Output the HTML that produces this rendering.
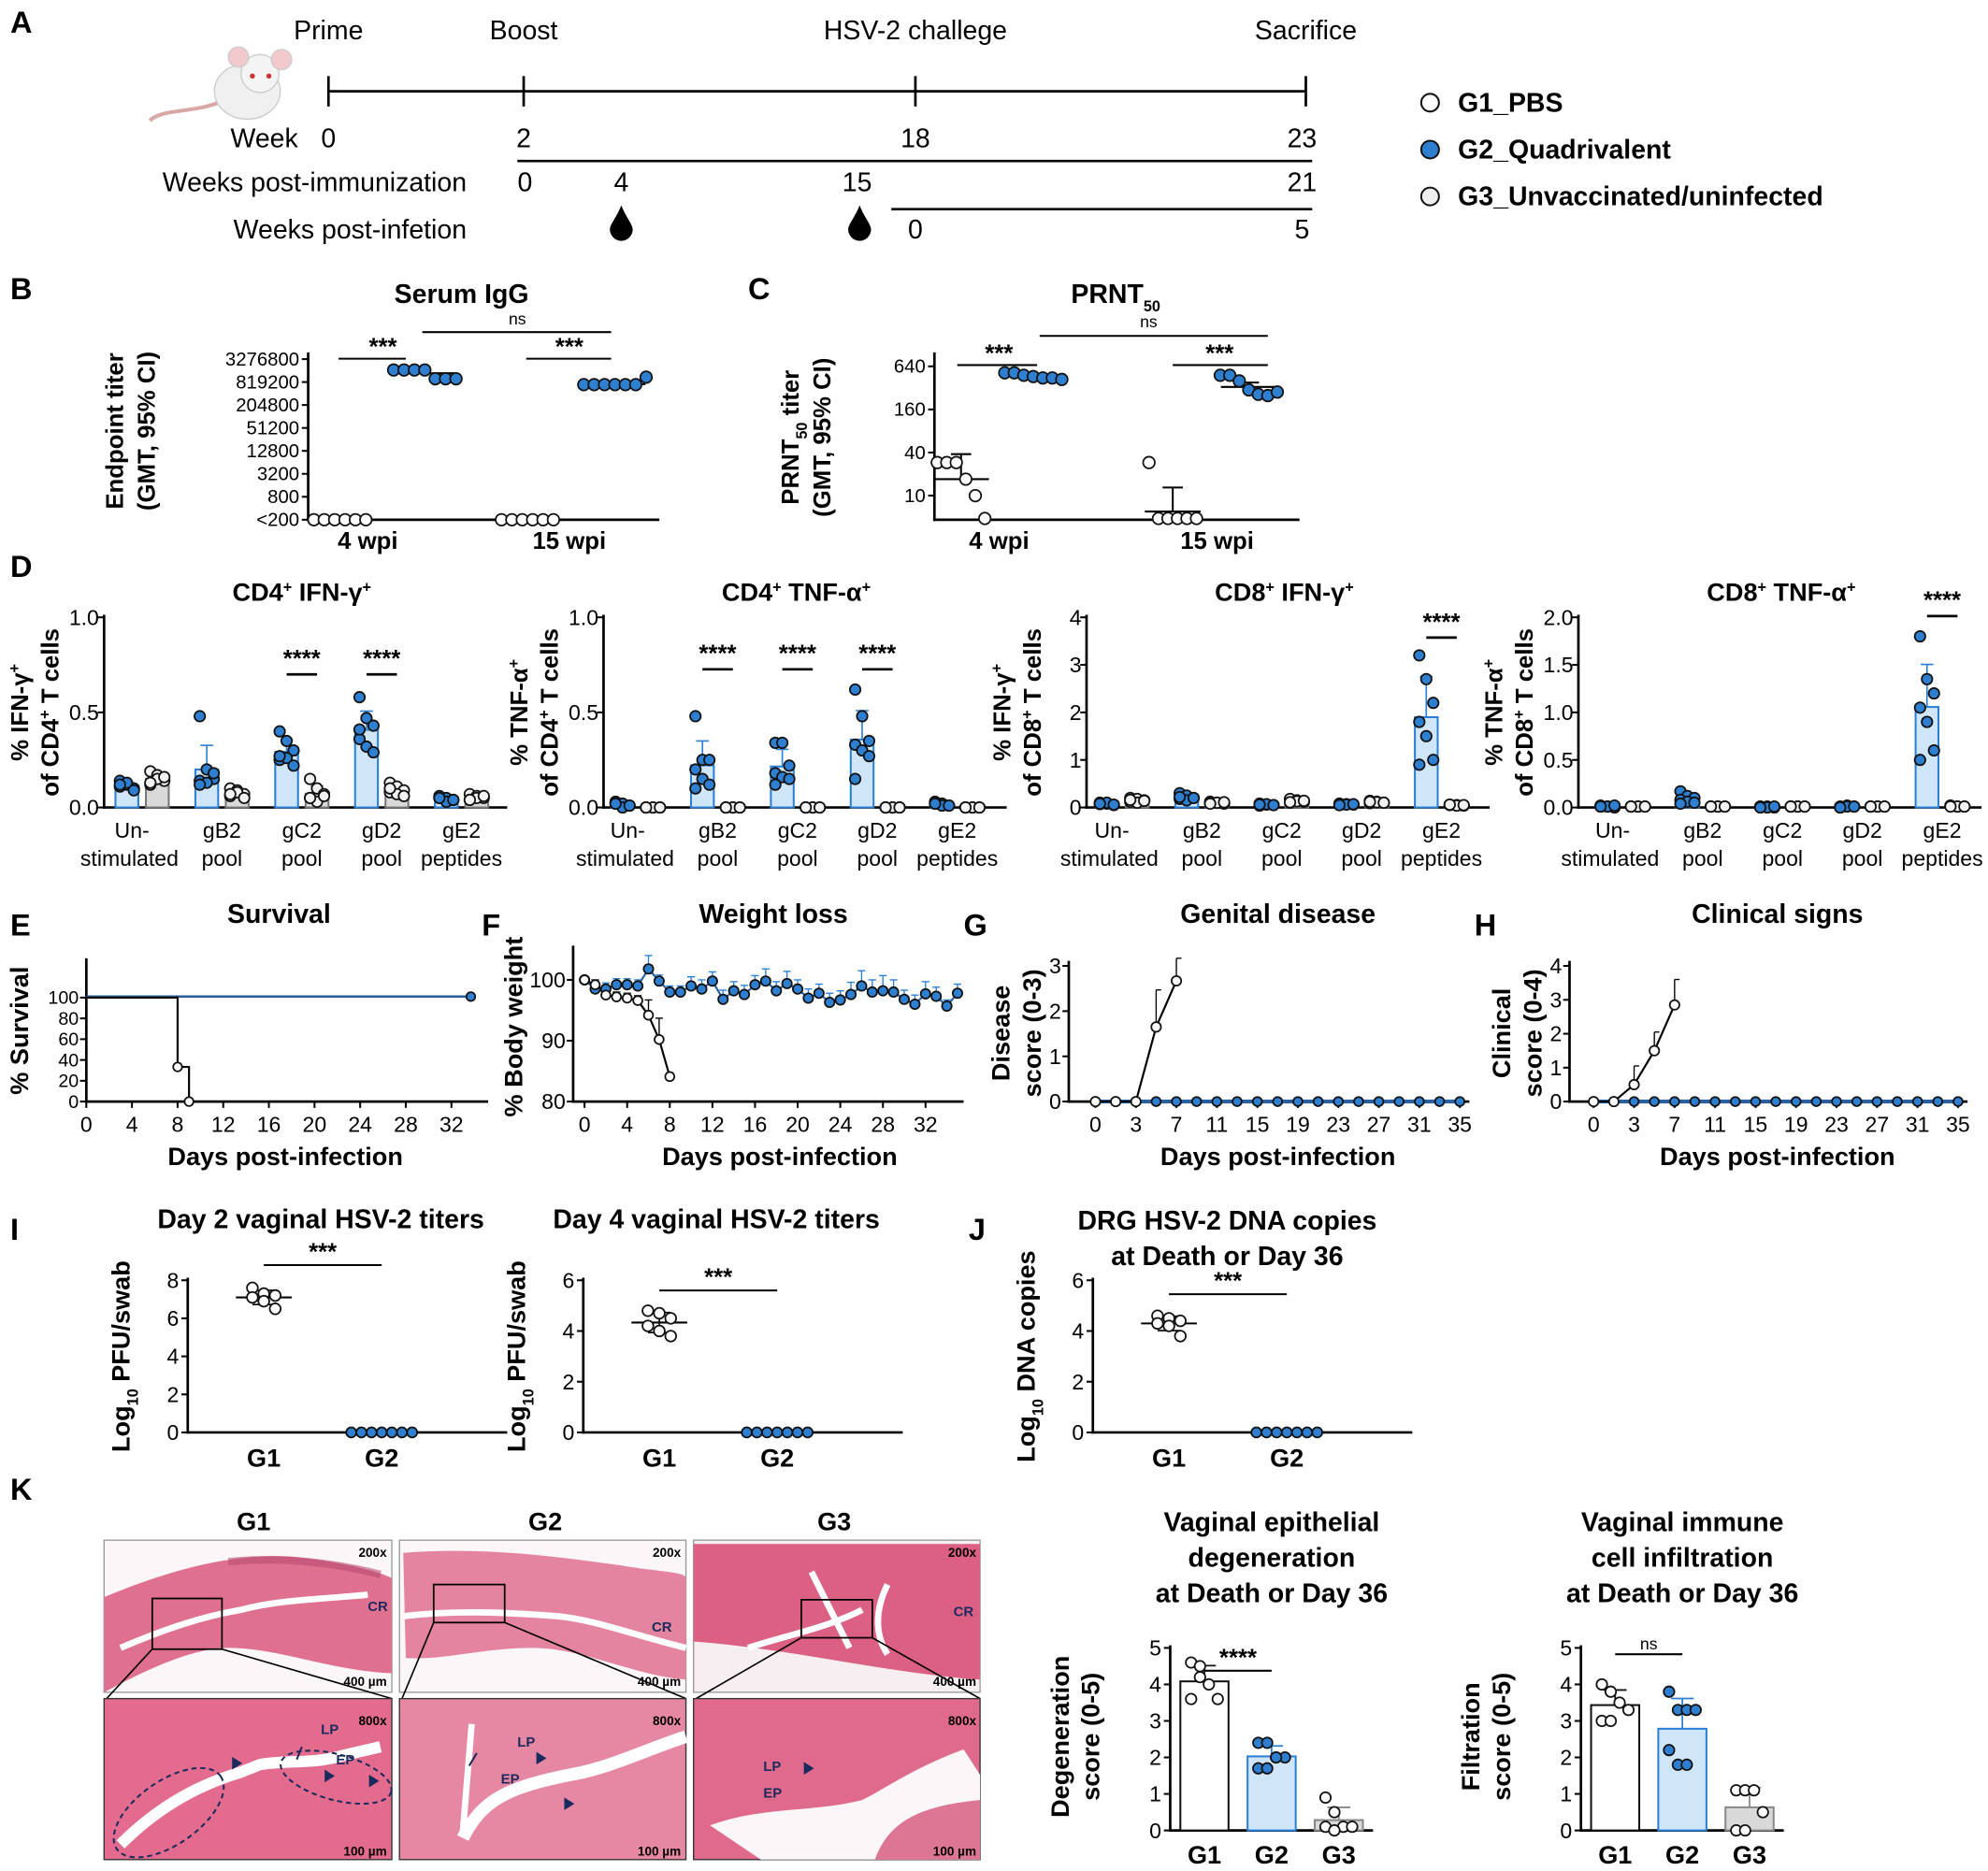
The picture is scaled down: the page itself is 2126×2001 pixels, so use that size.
<!DOCTYPE html>
<html><head><meta charset="utf-8">
<style>
html,body{margin:0;padding:0;background:#fff;}
svg{display:block;font-family:"Liberation Sans",Arial,sans-serif;}
</style></head>
<body>
<svg id="fig" xmlns="http://www.w3.org/2000/svg" width="2126" height="2001" viewBox="0 0 1568 1476">
<rect x="0" y="0" width="1568" height="1476" fill="#fff"/>
<g>
 <g>
  <rect x="82" y="1215" width="227" height="120" fill="#fbf7f8" stroke="#999"/>
  <path d="M82,1260 C130,1240 180,1225 230,1228 C270,1232 300,1240 309,1245 L309,1320 C260,1318 220,1300 180,1300 C150,1300 110,1320 82,1335 Z" fill="#e0708f"/>
  <path d="M95,1300 C130,1285 160,1275 190,1270 C220,1262 250,1262 290,1258" stroke="#fff" stroke-width="5" fill="none"/>
  <path d="M180,1232 C220,1228 260,1232 300,1242" stroke="#b84d72" stroke-width="6" fill="none" opacity="0.6"/>
  <rect x="120" y="1261" width="55" height="40" fill="none" stroke="#000" stroke-width="1.3"/>
 </g>
 <g>
  <rect x="315" y="1215" width="226" height="120" fill="#fbf7f8" stroke="#999"/>
  <path d="M318,1225 C380,1220 440,1228 490,1235 C520,1240 541,1240 541,1245 L541,1325 C500,1322 460,1300 420,1300 C380,1300 350,1310 320,1308 Z" fill="#e584a0"/>
  <path d="M318,1275 C360,1270 400,1272 440,1275 C470,1278 500,1290 541,1300" stroke="#fff" stroke-width="5" fill="none"/>
  <rect x="342" y="1250" width="56" height="30" fill="none" stroke="#000" stroke-width="1.3"/>
 </g>
 <g>
  <rect x="547" y="1215" width="226" height="120" fill="#f6eef0" stroke="#999"/>
  <path d="M547,1218 L773,1218 L773,1325 C700,1320 620,1300 547,1295 Z" fill="#dc5f84"/>
  <path d="M590,1300 C620,1290 650,1285 680,1270 M640,1240 C650,1260 660,1280 670,1300 M700,1250 C690,1270 690,1290 700,1305" stroke="#fff" stroke-width="5" fill="none"/>
  <rect x="632" y="1262" width="56" height="30" fill="none" stroke="#000" stroke-width="1.3"/>
 </g>
 <g stroke="#000" stroke-width="1.2">
  <line x1="120" y1="1301" x2="84" y2="1340"/><line x1="175" y1="1301" x2="309" y2="1340"/>
  <line x1="342" y1="1280" x2="317" y2="1340"/><line x1="398" y1="1280" x2="541" y2="1340"/>
  <line x1="632" y1="1292" x2="549" y2="1340"/><line x1="688" y1="1292" x2="773" y2="1340"/>
 </g>
 <g>
  <rect x="82" y="1340" width="227" height="127" fill="#e36b8d" stroke="#333"/>
  <path d="M95,1455 C120,1430 150,1410 190,1398 L205,1392 C230,1388 245,1392 270,1385 L300,1378" stroke="#fff" stroke-width="9" fill="none"/>
  <ellipse cx="133" cy="1430" rx="50" ry="25" transform="rotate(-35 133 1430)" fill="none" stroke="#1b2a5c" stroke-width="1.5" stroke-dasharray="4 3"/>
  <ellipse cx="265" cy="1402" rx="45" ry="18" transform="rotate(15 265 1402)" fill="none" stroke="#1b2a5c" stroke-width="1.5" stroke-dasharray="4 3"/>
 </g>
 <g>
  <rect x="315" y="1340" width="226" height="127" fill="#e688a3" stroke="#333"/>
  <path d="M365,1450 C380,1420 400,1410 450,1400 C480,1395 510,1380 541,1370" stroke="#fff" stroke-width="10" fill="none"/>
  <path d="M365,1445 L372,1360" stroke="#fff" stroke-width="5" fill="none"/>
 </g>
 <g>
  <rect x="547" y="1340" width="226" height="127" fill="#e06a8c" stroke="#333"/>
  <path d="M560,1440 C600,1425 640,1430 680,1420 C700,1410 720,1395 760,1380 L773,1400 L773,1467 L600,1467 Z" fill="#fbf6f7"/>
  <path d="M690,1467 C700,1440 720,1425 773,1420 L773,1467 Z" fill="#dd7595"/>
 </g>
 <g font-size="10" font-weight="bold" fill="#000" text-anchor="end">
  <text x="305" y="1228">200x</text><text x="537" y="1228">200x</text><text x="770" y="1228">200x</text>
  <text x="305" y="1361">800x</text><text x="537" y="1361">800x</text><text x="770" y="1361">800x</text>
  <text x="305" y="1330">400 µm</text><text x="537" y="1330">400 µm</text><text x="770" y="1330">400 µm</text>
  <text x="305" y="1464">100 µm</text><text x="537" y="1464">100 µm</text><text x="770" y="1464">100 µm</text>
 </g>
 <g font-size="11" font-weight="bold" fill="#1b2a5c">
  <text x="290" y="1271">CR</text><text x="514" y="1287">CR</text><text x="752" y="1275">CR</text>
  <text x="253" y="1368">LP</text><text x="265" y="1392">EP</text>
  <text x="408" y="1378">LP</text><text x="395" y="1407">EP</text>
  <text x="602" y="1397">LP</text><text x="602" y="1418">EP</text>
  <path d="M183,1386 l8,5 l-8,5 z M256,1396 l8,5 l-8,5 z M291,1400 l8,5 l-8,5 z M423,1382 l8,5 l-8,5 z M445,1418 l8,5 l-8,5 z M634,1390 l8,5 l-8,5 z" fill="#1b2a5c"/>
  <path d="M238,1378 l-4,10 M376,1383 l-6,10" stroke="#1b2a5c" stroke-width="1.5"/>
 </g>
</g>
<g>
 <path d="M175,80 C150,90 130,85 118,95" stroke="#d9a6a6" stroke-width="3" fill="none"/>
 <ellipse cx="195" cy="72" rx="26" ry="22" fill="#f0f0f0" stroke="#ccc"/>
 <circle cx="205" cy="58" r="15" fill="#f4f4f4" stroke="#ccc"/>
 <circle cx="188" cy="45" r="8" fill="#f2c9cc" stroke="#ccc"/>
 <circle cx="222" cy="47" r="8" fill="#f2c9cc" stroke="#ccc"/>
 <circle cx="199" cy="60" r="2" fill="#c33"/><circle cx="212" cy="60" r="2" fill="#c33"/>
</g>
<g fill="#000">
 <path d="M490,162 C486,172 481,177 481,181 A9,9 0 0 0 499,181 C499,177 494,172 490,162 Z"/>
 <path d="M678,162 C674,172 669,177 669,181 A9,9 0 0 0 687,181 C687,177 682,172 678,162 Z"/>
</g>
</svg>
<script>
// ===== DATA =====
const tlEvents=['Prime','Boost','HSV-2 challege','Sacrifice'];
const tlWeeks=[0,2,18,23];
const tlImm=[0,4,15,21];
const tlInf=[0,5];
const legendLabels=['G1_PBS','G2_Quadrivalent','G3_Unvaccinated/uninfected'];

const bTicks=[200,800,3200,12800,51200,204800,819200,3276800];
const bTickLabels=['<200','800','3200','12800','51200','204800','819200','3276800'];
const bG1w4=[200,200,200,200,200,200];
const bG2w4=[1700000,1700000,1700000,1700000,1000000,1000000,1000000];
const bG1w15=[200,200,200,200,200,200];
const bG2w15=[700000,700000,700000,700000,700000,700000,1100000];
const bGm=[200,1400000,200,720000];

const cTicks=[10,40,160,640];
const cG1w4=[29,29,29,17,10,4.6];
const cG2w4=[520,520,480,460,440,440,420];
const cG1w15=[29,4.6,4.6,4.6,4.6,4.6];
const cG2w15=[480,480,400,300,260,250,280];
const cGm=[17,462,6,330];
const cErrTop=[38,480,13,380];

const dCats1=['Un-','gB2','gC2','gD2','gE2'];
const dCats2=['stimulated','pool','pool','pool','peptides'];
const d1Blue=[[0.14,0.12,0.1,0.11,0.13,0.09,0.12],[0.48,0.2,0.15,0.14,0.13,0.18,0.12],[0.4,0.35,0.3,0.25,0.26,0.22,0.27],[0.58,0.47,0.43,0.36,0.32,0.29,0.41],[0.06,0.05,0.04,0.05,0.03,0.04,0.05]];
const d1Gray=[[0.19,0.17,0.14,0.12,0.15,0.16,0.13],[0.1,0.09,0.07,0.06,0.08,0.05,0.07],[0.15,0.1,0.07,0.05,0.03,0.06,0.05],[0.13,0.11,0.09,0.08,0.07,0.06,0.1],[0.07,0.06,0.05,0.04,0.05,0.06,0.04]];
const d2Blue=[[0.03,0.02,0.01,0.02,0.0,0.01,0.02],[0.48,0.25,0.25,0.2,0.15,0.12,0.1],[0.34,0.34,0.22,0.18,0.16,0.15,0.12],[0.62,0.48,0.35,0.33,0.3,0.27,0.15],[0.03,0.02,0.01,0.02,0.01,0.01,0.02]];
const d2Gray=[[0,0,0,0,0,0,0],[0,0,0,0,0,0,0],[0,0,0,0,0,0,0],[0,0,0,0,0,0,0],[0,0,0,0,0,0,0]];
const d3Blue=[[0.1,0.08,0.05,0.07,0.1,0.06,0.08],[0.3,0.25,0.2,0.18,0.15,0.2,0.22],[0.08,0.06,0.05,0.04,0.07,0.05,0.06],[0.08,0.07,0.06,0.05,0.06,0.07,0.05],[3.2,2.7,2.2,1.8,1.5,1.0,0.9]];
const d3Gray=[[0.2,0.18,0.15,0.12,0.1,0.14,0.16],[0.12,0.1,0.08,0.09,0.1,0.11,0.08],[0.18,0.15,0.12,0.1,0.13,0.14,0.11],[0.14,0.12,0.1,0.09,0.11,0.1,0.12],[0.06,0.05,0.04,0.05,0.04,0.05,0.06]];
const d4Blue=[[0.02,0.01,0.0,0.01,0.01,0.02,0.01],[0.17,0.12,0.1,0.08,0.06,0.05,0.04],[0.01,0.01,0.0,0.01,0.0,0.01,0.0],[0.01,0.02,0.01,0.0,0.01,0.01,0.0],[1.8,1.35,1.2,1.05,0.9,0.6,0.5]];
const d4Gray=[[0.01,0.01,0.01,0.01,0.01,0.01,0.01],[0.01,0.01,0.01,0.01,0.01,0.01,0.01],[0.01,0.01,0.01,0.01,0.01,0.01,0.01],[0.01,0.01,0.01,0.01,0.01,0.01,0.01],[0.02,0.01,0.01,0.02,0.01,0.01,0.01]];
const d1Ticks=[0,0.5,1.0], d1TickLabels=['0.0','0.5','1.0'];
const d3Ticks=[0,1,2,3,4], d3TickLabels=['0','1','2','3','4'];
const d4Ticks=[0,0.5,1,1.5,2], d4TickLabels=['0.0','0.5','1.0','1.5','2.0'];
const d1Sig=[2,3], d2Sig=[1,2,3], d3Sig=[4], d4Sig=[4];

const eTicksX=[0,4,8,12,16,20,24,28,32];
const eTicksY=[0,20,40,60,80,100];
const eG1Days=[0,8,8,9];
const eG1Surv=[100,100,33.3,0];
const eG2Days=[0,33.7];
const eG2Surv=[101,101];

const fTicksX=[0,4,8,12,16,20,24,28,32];
const fTicksY=[80,90,100];
const fG2=[100,98.5,98.5,99.2,99.2,99,101.8,99.8,98,98,99,98.5,99.8,96.8,98.2,97.6,99.2,99.8,98.2,99.4,98.5,97,97.8,96.3,96.7,97.6,99,98,98.2,98,96.8,96,97.7,97.3,95.7,97.8];
const fG2Err=[0.5,1,1,1,1,1,2.2,1,1,1,1.5,1.5,1.5,1.5,1.5,1.5,1.5,2,1.5,2,1.5,1.5,1.5,1.5,1.5,2,2.5,2,2.5,2,1.5,1.5,2,1.5,1,1.5];
const fG1=[100,99.2,97.5,97.2,97,96.6,94.2,90.2,84.1];
const fG1Err=[0.3,0.8,0.8,0.8,0.8,0.8,2.5,3.5,0.6];

const ghDays=['0','1','3','5','7','9','11','13','15','17','19','21','23','25','27','29','31','33','35'];
const ghTickIdx=[0,2,4,6,8,10,12,14,16,18];
const ghTickLabels=['0','3','7','11','15','19','23','27','31','35'];
const gG1=[0,0,0,1.65,2.67];
const gG1Err=[0,0,0,0.82,0.5];
const gG2=[0,0,0,0,0,0,0,0,0,0,0,0,0,0,0,0,0,0,0];
const hG1=[0,0,0.5,1.5,2.85];
const hG1Err=[0,0,0.55,0.55,0.75];
const hG2=[0,0,0,0,0,0,0,0,0,0,0,0,0,0,0,0,0,0,0];

const i1G1=[7.6,7.3,7.2,7.1,6.9,6.5];
const i1G2=[0,0,0,0,0,0,0];
const i2G1=[4.8,4.7,4.5,4.2,4.0,3.8];
const i2G2=[0,0,0,0,0,0,0];
const jG1=[4.6,4.5,4.4,4.3,4.2,3.8];
const jG2=[0,0,0,0,0,0,0];
const iTicks1=[0,2,4,6,8];
const iTicks2=[0,2,4,6];

const kCats=['G1','G2','G3'];
const kDeg=[[4.6,4.5,4.0,3.6,3.6,4.2],[2.4,2.4,2.0,2.0,1.7,1.7,2.0],[0.9,0.5,0.1,0.1,0.1,0.0]];
const kInf=[[4.0,3.8,3.5,3.3,3.0,3.0],[3.8,3.3,3.3,3.3,2.2,1.8,1.8],[1.1,1.1,1.1,0.5,0,0]];
const kTicks=[0,1,2,3,4,5];

// ===== HELPERS =====
const NS='http://www.w3.org/2000/svg';
const svg=document.getElementById('fig');
const BLUE='#2f7fd0', LBLUE='#cfe5f8', BARBLUE='#2b7fd4', GRAY='#d9d9d9';
function mk(tag,attrs,name,parent){
  const e=document.createElementNS(NS,tag);
  for(const k in attrs) e.setAttribute(k,attrs[k]);
  
  
  (parent||svg).appendChild(e); return e;
}
function txt(x,y,s,o,name){
  o=o||{};
  const a={x:x,y:y,'font-size':o.fs||17,'font-weight':o.fw||'normal','text-anchor':o.a||'middle',fill:o.fill||'#000'};
  if(o.rot) a.transform='rotate(-90 '+x+' '+y+')';
  const e=mk('text',a,name||'label',o.p);
  e.innerHTML=s; return e;
}
function ln(x1,y1,x2,y2,name,o){o=o||{};return mk('line',{x1:x1,y1:y1,x2:x2,y2:y2,stroke:o.c||'#000','stroke-width':o.w||2},name,o.p);}
function dot(x,y,fill,name,r){return mk('circle',{cx:x,cy:y,r:r||4.6,fill:fill,stroke:'#111','stroke-width':1.3},name);}
function lin(d0,d1,r0,r1){return v=>r0+(v-d0)/(d1-d0)*(r1-r0);}
function pw(dom,rng){return v=>{for(let i=0;i<dom.length-1;i++){if(v<=dom[i+1]||i==dom.length-2)return rng[i]+(v-dom[i])/(dom[i+1]-dom[i])*(rng[i+1]-rng[i]);}};}
function mean(a){return a.reduce((s,v)=>s+v,0)/a.length;}
function sd(a){const m=mean(a);return Math.sqrt(a.reduce((s,v)=>s+(v-m)*(v-m),0)/(a.length-1||1));}
const SUP=s=>'<tspan baseline-shift="super" font-size="12">'+s+'</tspan>';
const SUB=s=>'<tspan baseline-shift="sub" font-size="12">'+s+'</tspan>';
function letter(x,y,s){txt(x,y,s,{fs:24,fw:'bold',a:'start'},'panel-letter-'+s.toLowerCase());}

// ===== PANEL A =====
letter(8,26,'A');
const xTL=pw([0,2,18,23],[259,413,722,1030]);
ln(259,72,1030,72,'timeline-weeks');
tlWeeks.forEach((w,i)=>{
  ln(xTL(w),60,xTL(w),84,'timeline-tick');
  txt(xTL(w),31,tlEvents[i],{fs:21},'timeline-event');
  txt(xTL(w)+(i==3?-3:0),116,String(w),{fs:21},'week-label');
});
txt(235,116,'Week',{fs:21,a:'end'},'week-axis-label');
const xImm=pw([0,4,15,21],[414,490,676,1027]);
ln(408,127,1035,127,'timeline-immunization');
tlImm.forEach(w=>txt(xImm(w),151,String(w),{fs:21},'wpi-label'));
txt(368,151,'Weeks post-immunization',{fs:21,a:'end'},'wpi-axis-label');
const xInf=lin(0,5,722,1027);
ln(703,165,1035,165,'timeline-infection');
tlInf.forEach(w=>txt(xInf(w),188,String(w),{fs:21},'wpinf-label'));
txt(368,188,'Weeks post-infetion',{fs:21,a:'end'},'wpinf-axis-label');
const legFill=['#fff',BLUE,'#eee'];
legendLabels.forEach((l,i)=>{
  mk('circle',{cx:1128,cy:81+i*37,r:7,fill:legFill[i],stroke:'#111','stroke-width':1.5},'legend-marker');
  txt(1150,88+i*37,l,{fs:21,fw:'bold',a:'start'},'legend-entry');
});

// ===== PANEL B =====
letter(8,236,'B');
txt(364,239,'Serum IgG',{fs:21,fw:'bold'},'serum-igg-title');
const yB=v=>410-Math.log(v/200)/Math.log(4)*18.1;
ln(243,278,243,411,'b-y-axis');ln(242,410,520,410,'b-x-axis');
bTicks.forEach((t,i)=>{ln(238,yB(t),243,yB(t),'b-tick',{w:1.5});txt(236,yB(t)+5,bTickLabels[i],{fs:15,a:'end'},'b-tick-label');});
txt(97,340,'Endpoint titer',{fs:19,fw:'bold',rot:1},'b-y-title');
txt(122,340,'(GMT, 95% CI)',{fs:19,fw:'bold',rot:1},'b-y-title-2');
const bGroups=[[bG1w4,268,'#fff'],[bG2w4,335,BLUE],[bG1w15,416,'#fff'],[bG2w15,485,BLUE]];
bGroups.forEach((g,gi)=>{
  ln(g[1]-24,yB(bGm[gi]),g[1]+24,yB(bGm[gi]),'b-gmt-line',{w:1.5});
  g[0].forEach((v,i)=>dot(g[1]+(i-(g[0].length-1)/2)*8.2,yB(v),g[2],'b-point'));
});
txt(290,433,'4 wpi',{fs:19,fw:'bold'},'b-x-label');txt(449,433,'15 wpi',{fs:19,fw:'bold'},'b-x-label');
ln(267,283,320,283,'b-sig-line',{w:1.5});txt(302,280,'***',{fs:19,fw:'bold'},'b-sig');
ln(415,283,482,283,'b-sig-line',{w:1.5});txt(449,280,'***',{fs:19,fw:'bold'},'b-sig');
ln(333,262,482,262,'b-sig-line',{w:1.5});txt(408,256,'ns',{fs:13},'b-sig-ns');

// ===== PANEL C =====
letter(590,236,'C');
txt(880,239,'PRNT'+SUB('50'),{fs:21,fw:'bold'},'prnt-title');
const yC=v=>391-Math.log2(v/10)*17;
ln(737,278,737,411,'c-y-axis');ln(736,410,1025,410,'c-x-axis');
cTicks.forEach(t=>{ln(732,yC(t),737,yC(t),'c-tick',{w:1.5});txt(730,yC(t)+5,String(t),{fs:15,a:'end'},'c-tick-label');});
txt(630,345,'PRNT'+SUB('50')+' titer',{fs:19,fw:'bold',rot:1},'c-y-title');
txt(655,345,'(GMT, 95% CI)',{fs:19,fw:'bold',rot:1},'c-y-title-2');
const cGroups=[[cG1w4,758,'#fff'],[cG2w4,815,BLUE],[cG1w15,925,'#fff'],[cG2w15,985,BLUE]];
cGroups.forEach((g,gi)=>{
  const cx=g[1];
  ln(cx,yC(cGm[gi]),cx,Math.min(410,yC(cErrTop[gi])),'c-error-bar',{w:1.5});
  ln(cx-8,yC(cErrTop[gi]),cx+8,yC(cErrTop[gi]),'c-error-cap',{w:1.5});
  ln(cx-22,yC(cGm[gi]),cx+22,yC(cGm[gi]),'c-gmt-line',{w:1.5});
  g[0].forEach((v,i)=>dot(cx+(i-(g[0].length-1)/2)*7.5,Math.min(409,yC(v)),g[2],'c-point'));
});
txt(788,433,'4 wpi',{fs:19,fw:'bold'},'c-x-label');txt(960,433,'15 wpi',{fs:19,fw:'bold'},'c-x-label');
ln(755,288,818,288,'c-sig-line',{w:1.5});txt(788,285,'***',{fs:19,fw:'bold'},'c-sig');
ln(925,288,1000,288,'c-sig-line',{w:1.5});txt(962,285,'***',{fs:19,fw:'bold'},'c-sig');
ln(820,265,1000,265,'c-sig-line',{w:1.5});txt(906,258,'ns',{fs:13},'c-sig-ns');

// ===== PANEL D =====
letter(8,455,'D');
function dPlot(cfg){
  const y=lin(0,cfg.max,637,487);
  const xc=i=>cfg.c0+i*63;
  txt(cfg.tx,474,cfg.title,{fs:20,fw:'bold'},'d-title');
  ln(cfg.ax,485,cfg.ax,638,'d-y-axis');ln(cfg.ax-1,637,cfg.ax+318,637,'d-x-axis');
  cfg.ticks.forEach((t,i)=>{ln(cfg.ax-5,y(t),cfg.ax,y(t),'d-tick',{w:1.5});txt(cfg.ax-4,y(t)+6,cfg.tl[i],{fs:17,a:'end'},'d-tick-label');});
  txt(cfg.ax-60,562,cfg.yl1,{fs:19,fw:'bold',rot:1},'d-y-title');
  txt(cfg.ax-36,562,cfg.yl2,{fs:19,fw:'bold',rot:1},'d-y-title-2');
  [[cfg.blue,-12,LBLUE,BARBLUE,BLUE],[cfg.gray,12,GRAY,'#777','#f2f2f2']].forEach(s=>{
    s[0].forEach((pts,i)=>{
      const cx=xc(i)+s[1], m=mean(pts), e=m+sd(pts);
      mk('rect',{x:cx-9,y:y(m),width:18,height:637-y(m),fill:s[2],stroke:s[3],'stroke-width':1.5},'d-bar');
      if(e-m>0.001){ln(cx,y(m),cx,y(e),'d-error-bar',{c:s[3],w:1.2});ln(cx-5,y(e),cx+5,y(e),'d-error-cap',{c:s[3],w:1.2});}
      pts.forEach((v,j)=>dot(cx+((j%3)-1)*5.5,y(v),s[4],'d-point',4.2));
    });
  });
  dCats1.forEach((c,i)=>{txt(xc(i)-(i==0?8:0),661,c,{fs:17},'d-x-label');txt(xc(i)-(i==0?10:0),683,dCats2[i],{fs:17},'d-x-label-2');});
  cfg.sig.forEach(i=>{ln(xc(i)-12,cfg.sy,xc(i)+12,cfg.sy,'d-sig-line');txt(xc(i),cfg.sy-6,'****',{fs:19,fw:'bold'},'d-sig');});
}
dPlot({ax:82,c0:112,max:1,ticks:d1Ticks,tl:d1TickLabels,blue:d1Blue,gray:d1Gray,title:'CD4'+SUP('+')+' IFN-γ'+SUP('+'),tx:238,yl1:'% IFN-γ'+SUP('+'),yl2:'of CD4'+SUP('+')+' T cells',sig:d1Sig,sy:532});
dPlot({ax:476,c0:503,max:1,ticks:d1Ticks,tl:d1TickLabels,blue:d2Blue,gray:d2Gray,title:'CD4'+SUP('+')+' TNF-α'+SUP('+'),tx:628,yl1:'% TNF-α'+SUP('+'),yl2:'of CD4'+SUP('+')+' T cells',sig:d2Sig,sy:528});
dPlot({ax:857,c0:885,max:4,ticks:d3Ticks,tl:d3TickLabels,blue:d3Blue,gray:d3Gray,title:'CD8'+SUP('+')+' IFN-γ'+SUP('+'),tx:1013,yl1:'% IFN-γ'+SUP('+'),yl2:'of CD8'+SUP('+')+' T cells',sig:d3Sig,sy:503});
dPlot({ax:1245,c0:1280,max:2,ticks:d4Ticks,tl:d4TickLabels,blue:d4Blue,gray:d4Gray,title:'CD8'+SUP('+')+' TNF-α'+SUP('+'),tx:1405,yl1:'% TNF-α'+SUP('+'),yl2:'of CD8'+SUP('+')+' T cells',sig:d4Sig,sy:486});

// ===== PANEL E =====
letter(8,738,'E');
txt(220,728,'Survival',{fs:21,fw:'bold'},'survival-title');
const xE=lin(0,32,68,356), yE=lin(0,100,869,787);
ln(68,756,68,870,'e-y-axis');ln(67,869,385,869,'e-x-axis');
eTicksX.forEach(t=>{ln(xE(t),869,xE(t),874,'e-tick',{w:1.5});txt(xE(t),893,String(t),{fs:17},'e-tick-label');});
eTicksY.forEach(t=>{ln(63,yE(t),68,yE(t),'e-tick',{w:1.5});txt(62,yE(t)+5,String(t),{fs:14.5,a:'end'},'e-tick-label');});
txt(225,919,'Days post-infection',{fs:20,fw:'bold'},'e-x-title');
txt(22,813,'% Survival',{fs:20,fw:'bold',rot:1},'e-y-title');
mk('polyline',{points:eG2Days.map((d,i)=>xE(d)+','+yE(eG2Surv[i])).join(' '),fill:'none',stroke:'#2a5f9e','stroke-width':2},'e-g2-line');
dot(xE(eG2Days[1]),yE(eG2Surv[1]),BLUE,'e-g2-point',3.5);
let ep=[];eG1Days.forEach((d,i)=>{if(i>0)ep.push(xE(d)+','+yE(eG1Surv[i-1]));ep.push(xE(d)+','+yE(eG1Surv[i]));});
mk('polyline',{points:ep.join(' '),fill:'none',stroke:'#000','stroke-width':1.6},'e-g1-line');
dot(xE(8),yE(33.3),'#fff','e-g1-point',3.5);dot(xE(9),yE(0),'#fff','e-g1-point',3.5);

// ===== PANEL F =====
letter(380,738,'F');
txt(610,728,'Weight loss',{fs:21,fw:'bold'},'weight-title');
const xF=lin(0,32,461,730), yF=lin(80,100,869,773);
ln(452,746,452,870,'f-y-axis');ln(451,869,760,869,'f-x-axis');
fTicksX.forEach(t=>{ln(xF(t),869,xF(t),874,'f-tick',{w:1.5});txt(xF(t),893,String(t),{fs:17},'f-tick-label');});
fTicksY.forEach(t=>{ln(447,yF(t),452,yF(t),'f-tick',{w:1.5});txt(446,yF(t)+6,String(t),{fs:17,a:'end'},'f-tick-label');});
txt(615,919,'Days post-infection',{fs:20,fw:'bold'},'f-x-title');
txt(412,810,'% Body weight',{fs:20,fw:'bold',rot:1},'f-y-title');
fG2.forEach((v,i)=>{ln(xF(i),yF(v),xF(i),yF(v+fG2Err[i]),'f-g2-error',{c:BARBLUE,w:1});ln(xF(i)-3,yF(v+fG2Err[i]),xF(i)+3,yF(v+fG2Err[i]),'f-g2-cap',{c:BARBLUE,w:1});});
fG1.forEach((v,i)=>{ln(xF(i),yF(v),xF(i),yF(v+fG1Err[i]),'f-g1-error',{w:1});ln(xF(i)-3,yF(v+fG1Err[i]),xF(i)+3,yF(v+fG1Err[i]),'f-g1-cap',{w:1});});
mk('polyline',{points:fG2.map((v,i)=>xF(i)+','+yF(v)).join(' '),fill:'none',stroke:'#2a5f9e','stroke-width':1.6},'f-g2-line');
mk('polyline',{points:fG1.map((v,i)=>xF(i)+','+yF(v)).join(' '),fill:'none',stroke:'#000','stroke-width':1.6},'f-g1-line');
fG2.forEach((v,i)=>dot(xF(i),yF(v),BLUE,'f-g2-point',3.8));
fG1.forEach((v,i)=>dot(xF(i),yF(v),'#fff','f-g1-point',3.6));

// ===== PANELS G, H =====
function ghPlot(o){
  const x=i=>o.x0+i*15.97, y=lin(0,o.max,869,o.top);
  letter(o.lx,738,o.L);
  txt(o.tx,728,o.title,{fs:21,fw:'bold'},'gh-title');
  ln(o.ax,758,o.ax,870,'gh-y-axis');ln(o.ax-1,869,o.x0+295,869,'gh-x-axis');
  for(let t=0;t<=o.max;t++){ln(o.ax-5,y(t),o.ax,y(t),'gh-tick',{w:1.5});txt(o.ax-6,y(t)+6,String(t),{fs:17,a:'end'},'gh-tick-label');}
  ghTickIdx.forEach((ti,k)=>{ln(x(ti),869,x(ti),874,'gh-x-tick',{w:1.5});txt(x(ti),893,ghTickLabels[k],{fs:17},'gh-x-tick-label');});
  txt(o.tx,919,'Days post-infection',{fs:20,fw:'bold'},'gh-x-title');
  txt(o.ax-47,815,o.yl1,{fs:20,fw:'bold',rot:1},'gh-y-title');
  txt(o.ax-22,815,o.yl2,{fs:20,fw:'bold',rot:1},'gh-y-title-2');
  o.g1.forEach((v,i)=>{if(o.err[i]>0){ln(x(i),y(v),x(i),y(v+o.err[i]),'gh-g1-error',{w:1});ln(x(i),y(v+o.err[i]),x(i)+4,y(v+o.err[i]),'gh-g1-cap',{w:1});}});
  mk('polyline',{points:o.g2.map((v,i)=>x(i)+','+y(v)).join(' '),fill:'none',stroke:'#2a5f9e','stroke-width':3},'gh-g2-line');
  mk('polyline',{points:o.g1.map((v,i)=>x(i)+','+y(v)).join(' '),fill:'none',stroke:'#000','stroke-width':1.6},'gh-g1-line');
  o.g2.forEach((v,i)=>{if(i>=o.g2start)dot(x(i),y(v),BLUE,'gh-g2-point',3.6);});
  o.g1.forEach((v,i)=>dot(x(i),y(v),'#fff','gh-g1-point',3.8));
}
ghPlot({L:'G',lx:760,x0:864,ax:843,max:3,top:762,title:'Genital disease',tx:1008,yl1:'Disease',yl2:'score (0-3)',g1:gG1,err:gG1Err,g2:gG2,g2start:3});
ghPlot({L:'H',lx:1163,x0:1257,ax:1238,max:4,top:762,title:'Clinical signs',tx:1402,yl1:'Clinical',yl2:'score (0-4)',g1:hG1,err:hG1Err,g2:hG2,g2start:2});

// ===== PANELS I, J =====
function scatterPlot(o){
  const y=lin(0,o.max,1130,1010);
  if(o.title) txt(o.tx,969,o.title,{fs:21,fw:'bold'},'ij-title');
  ln(o.ax,1008,o.ax,1131,'ij-y-axis');ln(o.ax-1,1130,o.ax+252,1130,'ij-x-axis');
  o.ticks.forEach(t=>{ln(o.ax-5,y(t),o.ax,y(t),'ij-tick',{w:1.5});txt(o.ax-7,y(t)+6,String(t),{fs:17,a:'end'},'ij-tick-label');});
  txt(o.ax-46,1070,o.yl,{fs:20,fw:'bold',rot:1},'ij-y-title');
  const c1=o.ax+60,c2=o.ax+153;
  const m=mean(o.g1),s=sd(o.g1);
  ln(c1,y(m-s),c1,y(m+s),'ij-error',{w:1.2});ln(c1-9,y(m+s),c1+9,y(m+s),'ij-cap',{w:1.2});ln(c1-9,y(m-s),c1+9,y(m-s),'ij-cap',{w:1.2});
  ln(c1-22,y(m),c1+22,y(m),'ij-mean',{w:1.5});
  o.g1.forEach((v,i)=>dot(c1+((i%3)-1)*9,y(v),'#fff','ij-g1-point',4.3));
  o.g2.forEach((v,i)=>dot(c2+(i-(o.g2.length-1)/2)*8,y(v),BLUE,'ij-g2-point',4));
  txt(c1,1157,'G1',{fs:20,fw:'bold'},'ij-x-label');txt(c2,1157,'G2',{fs:20,fw:'bold'},'ij-x-label');
  ln(c1,o.sy,c2,o.sy,'ij-sig-line',{w:1.5});txt((c1+c2)/2,o.sy-4,'***',{fs:19,fw:'bold'},'ij-sig');
}
letter(8,978,'I');
scatterPlot({ax:148,max:8,ticks:iTicks1,g1:i1G1,g2:i1G2,title:'Day 2 vaginal HSV-2 titers',tx:253,yl:'Log'+SUB('10')+' PFU/swab',sy:998});
scatterPlot({ax:460,max:6,ticks:iTicks2,g1:i2G1,g2:i2G2,title:'Day 4 vaginal HSV-2 titers',tx:565,yl:'Log'+SUB('10')+' PFU/swab',sy:1018});
letter(764,978,'J');
txt(968,970,'DRG HSV-2 DNA copies',{fs:21,fw:'bold'},'j-title');
txt(968,998,'at Death or Day 36',{fs:21,fw:'bold'},'j-title-2');
scatterPlot({ax:862,max:6,ticks:iTicks2,g1:jG1,g2:jG2,yl:'Log'+SUB('10')+' DNA copies',sy:1021});

// ===== PANEL K =====
letter(8,1183,'K');
txt(200,1207,'G1',{fs:20,fw:'bold'},'k-image-label');txt(430,1207,'G2',{fs:20,fw:'bold'},'k-image-label');txt(658,1207,'G3',{fs:20,fw:'bold'},'k-image-label');
function kPlot(o){
  const y=lin(0,5,1444,1300);
  o.titles.forEach((t,i)=>txt(o.tx,1208+i*28,t,{fs:21,fw:'bold'},'k-title'));
  ln(o.ax,1298,o.ax,1445,'k-y-axis');ln(o.ax-1,1444,o.ax+160,1444,'k-x-axis');
  kTicks.forEach(t=>{ln(o.ax-5,y(t),o.ax,y(t),'k-tick',{w:1.5});txt(o.ax-7,y(t)+6,String(t),{fs:17,a:'end'},'k-tick-label');});
  txt(o.ax-80,1370,o.yl1,{fs:20,fw:'bold',rot:1},'k-y-title');
  txt(o.ax-56,1370,'score (0-5)',{fs:20,fw:'bold',rot:1},'k-y-title-2');
  const fills=['#fff',LBLUE,GRAY],strokes=['#111',BARBLUE,'#888'],pf=['#fff',BLUE,'#fff'];
  o.data.forEach((pts,i)=>{
    const cx=o.ax+27+i*53,m=mean(pts),e=m+sd(pts);
    mk('rect',{x:cx-19,y:y(m),width:38,height:1444-y(m),fill:fills[i],stroke:strokes[i],'stroke-width':1.5},'k-bar');
    ln(cx,y(m),cx,y(e),'k-error',{c:strokes[i],w:1.3});ln(cx-9,y(e),cx+9,y(e),'k-cap',{c:strokes[i],w:1.3});
    pts.forEach((v,j)=>dot(cx+((j%4)-1.5)*7,y(v),pf[i],'k-point',4.2));
    txt(cx,1470,kCats[i],{fs:20,fw:'bold'},'k-x-label');
  });
  const a=o.ax+27,b=o.ax+80;
  ln(a,o.sy,b,o.sy,'k-sig-line',{w:1.5});txt((a+b)/2,o.sy-4,o.sig,{fs:o.sig=='ns'?13:19,fw:o.sig=='ns'?'normal':'bold'},'k-sig');
}
kPlot({ax:923,tx:1003,titles:['Vaginal epithelial','degeneration','at Death or Day 36'],yl1:'Degeneration',data:kDeg,sig:'****',sy:1318});
kPlot({ax:1247,tx:1327,titles:['Vaginal immune','cell infiltration','at Death or Day 36'],yl1:'Filtration',data:kInf,sig:'ns',sy:1305});
</script>
</body></html>
